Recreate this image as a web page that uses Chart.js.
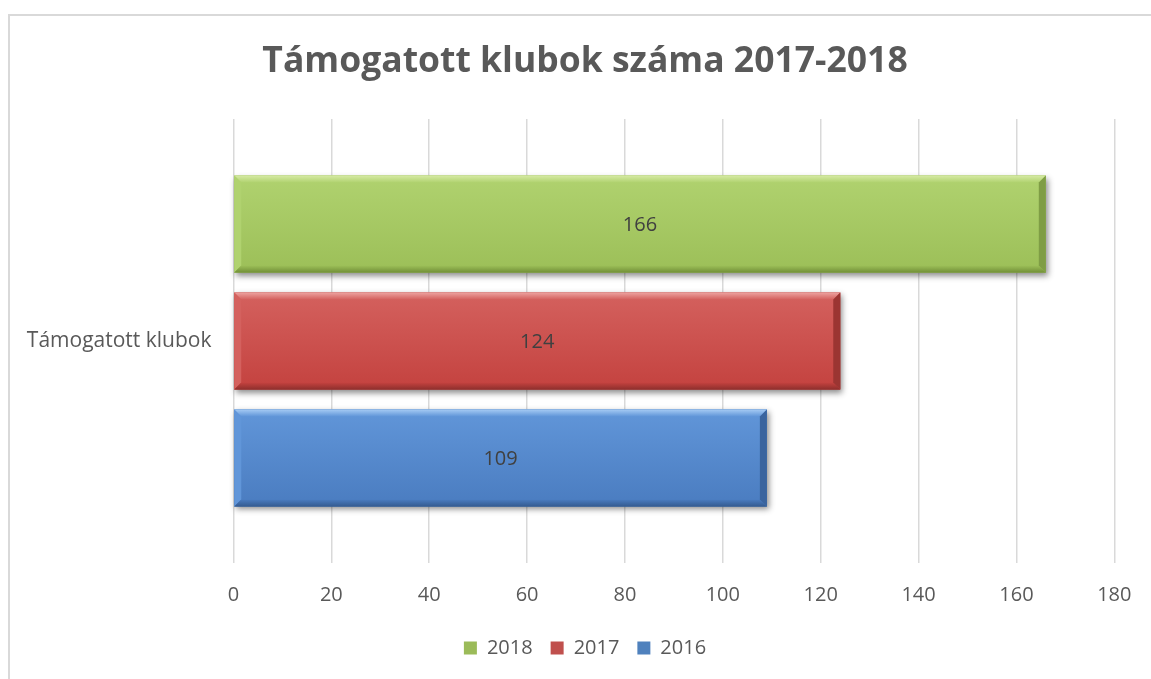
<!DOCTYPE html>
<html>
<head>
<meta charset="utf-8">
<script src="https://cdn.jsdelivr.net/npm/chart.js@4/dist/chart.umd.min.js"></script>
<style>
    html, body { margin: 0; padding: 0; background: #fff; overflow: hidden; }
    #frame {
        position: absolute; left: 8px; top: 14px; width: 1200px; height: 700px;
        border-left: 2px solid #d9d9d9; border-top: 2px solid #d9d9d9;
    }
    #wrap { position: absolute; left: 0; top: 0; width: 1170px; height: 679px; }
</style>
</head>
<body>
<div id="frame"></div>
<div id="wrap"><canvas id="clubChart" width="1170" height="679"></canvas></div>
<script>
// adatok
const categories = ['Támogatott klubok'];
const seriesNames = ['2018', '2017', '2016'];
const values2018 = [166];
const values2017 = [124];
const values2016 = [109];
const xTickValues = [0, 20, 40, 60, 80, 100, 120, 140, 160, 180];

const FONT = "'Open Sans', 'DejaVu Sans', sans-serif";

// színek (fény, test felső, test alsó, alsó él, jobb él)
const palettes = [
    { base: '#9bbb59', hi: '#d6eaa4', top: '#b0d26f', bottom: '#9cbf58', edgeB: '#718f37', edgeR: '#7f9d45' },
    { base: '#c0504d', hi: '#eda3a0', top: '#d4615e', bottom: '#c4423f', edgeB: '#8e2f2d', edgeR: '#9b3532' },
    { base: '#4f81bd', hi: '#a6cbf4', top: '#6196d9', bottom: '#4a7cc0', edgeB: '#345b90', edgeR: '#3a649e' }
];

// domború hatás a sávokra
const bevelPlugin = {
    id: 'bevel',
    afterDatasetsDraw(chart) {
        const ctx = chart.ctx;
        chart.data.datasets.forEach((ds, di) => {
            const meta = chart.getDatasetMeta(di);
            const pal = palettes[di];
            meta.data.forEach(bar => {
                const p = bar.getProps(['x', 'y', 'base', 'height'], true);
                const L = Math.min(p.base, p.x), R = Math.max(p.base, p.x);
                const T = p.y - p.height / 2, B = p.y + p.height / 2;
                const b = 7;

                ctx.save();
                ctx.shadowColor = 'rgba(0,0,0,0.45)';
                ctx.shadowBlur = 6;
                ctx.shadowOffsetX = 2;
                ctx.shadowOffsetY = 3;
                const g = ctx.createLinearGradient(0, T, 0, B);
                g.addColorStop(0, pal.top);
                g.addColorStop(1, pal.bottom);
                ctx.fillStyle = g;
                ctx.fillRect(L, T, R - L, B - T);
                ctx.restore();

                ctx.save();
                // felső él
                const gh = ctx.createLinearGradient(0, T, 0, T + b);
                gh.addColorStop(0, pal.hi);
                gh.addColorStop(1, pal.top);
                ctx.fillStyle = gh;
                ctx.beginPath();
                ctx.moveTo(L, T); ctx.lineTo(R, T); ctx.lineTo(R - b, T + b); ctx.lineTo(L + b, T + b);
                ctx.closePath(); ctx.fill();
                // bal él
                ctx.fillStyle = pal.top;
                ctx.beginPath();
                ctx.moveTo(L, T); ctx.lineTo(L + b, T + b); ctx.lineTo(L + b, B - b); ctx.lineTo(L, B);
                ctx.closePath(); ctx.fill();
                // alsó él
                const gb = ctx.createLinearGradient(0, B - b, 0, B);
                gb.addColorStop(0, pal.bottom);
                gb.addColorStop(1, pal.edgeB);
                ctx.fillStyle = gb;
                ctx.beginPath();
                ctx.moveTo(L, B); ctx.lineTo(R, B); ctx.lineTo(R - b, B - b); ctx.lineTo(L + b, B - b);
                ctx.closePath(); ctx.fill();
                // jobb él
                ctx.fillStyle = pal.edgeR;
                ctx.beginPath();
                ctx.moveTo(R, T); ctx.lineTo(R, B); ctx.lineTo(R - b, B - b); ctx.lineTo(R - b, T + b);
                ctx.closePath(); ctx.fill();
                ctx.restore();
            });
        });
    }
};

// értékcímkék a sávok közepén
const valueLabels = {
    id: 'valueLabels',
    afterDatasetsDraw(chart) {
        const ctx = chart.ctx;
        ctx.save();
        ctx.font = '20px ' + FONT;
        ctx.fillStyle = '#404040';
        ctx.textAlign = 'center';
        ctx.textBaseline = 'middle';
        chart.data.datasets.forEach((ds, di) => {
            chart.getDatasetMeta(di).data.forEach((bar, i) => {
                const p = bar.getProps(['x', 'y', 'base'], true);
                ctx.fillText(ds.data[i], (p.x + p.base) / 2, p.y + 1);
            });
        });
        ctx.restore();
    }
};

const seriesValues = [values2018, values2017, values2016];

new Chart(document.getElementById('clubChart'), {
    type: 'bar',
    data: {
        labels: categories,
        datasets: seriesNames.map((name, i) => ({
            label: name,
            data: seriesValues[i],
            backgroundColor: palettes[i].base,
            borderWidth: 0,
            categoryPercentage: 0.79,
            barPercentage: 0.83
        }))
    },
    options: {
        indexAxis: 'y',
        responsive: false,
        animation: false,
        layout: { padding: { left: 0, right: 0, top: 0, bottom: 11 } },
        scales: {
            x: {
                min: xTickValues[0],
                max: xTickValues[xTickValues.length - 1],
                afterBuildTicks: scale => { scale.ticks = xTickValues.map(v => ({ value: v })); },
                afterFit: scale => { scale.height = 57; },
                grid: { color: '#d9d9d9', lineWidth: 1.5, drawTicks: false },
                border: { display: false },
                ticks: { color: '#595959', padding: 20, font: { family: FONT, size: 20 } }
            },
            y: {
                afterFit: scale => { scale.width = 233.5; },
                grid: { display: false },
                border: { display: false },
                ticks: { color: '#595959', padding: 14, font: { family: FONT, size: 21 } }
            },
            // üres jobb oldali sáv, hogy a cím középre kerüljön
            yRight: {
                type: 'category',
                position: 'right',
                afterFit: scale => { scale.width = 55.7; },
                grid: { display: false },
                border: { display: false },
                ticks: { display: false }
            }
        },
        plugins: {
            title: {
                display: true,
                text: 'Támogatott klubok száma 2017-2018',
                color: '#595959',
                font: { family: FONT, size: 35.5, weight: 'bold' },
                padding: { top: 40.7, bottom: 35.7 }
            },
            legend: {
                position: 'bottom',
                labels: {
                    color: '#595959',
                    boxWidth: 13,
                    boxHeight: 13,
                    padding: 18,
                    font: { family: FONT, size: 20 }
                }
            },
            tooltip: { enabled: false }
        }
    },
    plugins: [bevelPlugin, valueLabels]
});
</script>
</body>
</html>
